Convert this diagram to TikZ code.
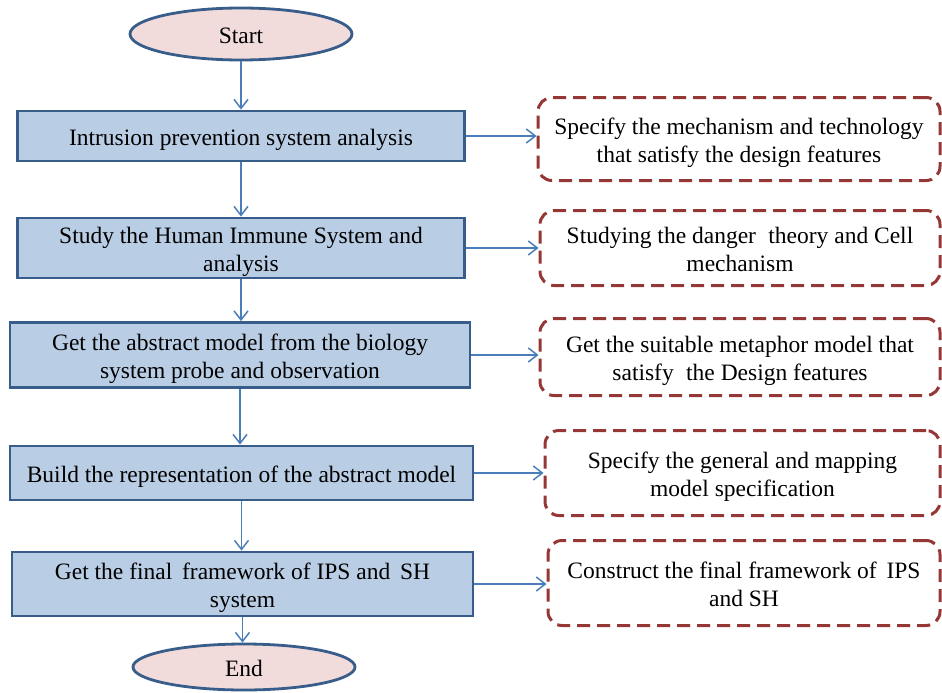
\documentclass[tikz,border=0pt]{standalone}
\usepackage{fontspec}
\setmainfont{Liberation Serif}
\usetikzlibrary{arrows.meta,shapes.geometric}
\definecolor{boxfill}{RGB}{185,205,229}
\definecolor{boxline}{RGB}{56,93,138}
\definecolor{ovalfill}{RGB}{242,220,219}
\definecolor{arrowblue}{RGB}{74,126,187}
\definecolor{noteline}{RGB}{149,55,53}
% centred block of lines, drawn a little below the geometric centre
\newcommand\boxtext[1]{\raisebox{-4pt}[\height][\depth]{\begin{tabular}{@{}c@{}}#1\end{tabular}}}
\tikzset{
  txt/.style={font=\fontsize{23.5}{28}\selectfont, inner sep=0pt},
  terminal/.style={txt, ellipse, draw=boxline, line width=2.8pt, fill=ovalfill},
  stepbox/.style={txt, rectangle, draw=boxline, line width=2.8pt, fill=boxfill},
  notebox/.style={txt, rectangle, rounded corners=14pt, draw=noteline, line width=3pt,
    dash pattern=on 13pt off 7pt},
  flow/.style={draw=arrowblue, line width=1.5pt, -{Straight Barb[length=9pt,width=14pt,line width=1.5pt]}}
}
\begin{document}
\begin{tikzpicture}[x=1pt,y=-1pt]
\useasboundingbox (0,0) rectangle (942,693);

% main column
\node[terminal, minimum width=222pt, minimum height=52pt] (start) at (241,34) {\boxtext{Start}};
\node[stepbox, minimum width=447pt, minimum height=50pt] (b1) at (241,136) {\boxtext{Intrusion prevention system analysis}};
\node[stepbox, minimum width=447pt, minimum height=60pt] (b2) at (241,248) {\boxtext{Study the Human Immune System and\\analysis}};
\node[stepbox, minimum width=460pt, minimum height=65pt] (b3) at (240,355) {\boxtext{Get the abstract model from the biology\\system probe and observation}};
\node[stepbox, minimum width=463pt, minimum height=54pt] (b4) at (241.5,473) {\boxtext{Build the representation of the abstract model}};
\node[stepbox, minimum width=461pt, minimum height=64pt] (b5) at (242.5,584) {\boxtext{Get the final\, framework of IPS and\, SH\\system}};
\node[terminal, minimum width=222pt, minimum height=46pt] (end) at (244,667) {\boxtext{End}};

% side notes
\node[notebox, minimum width=402pt, minimum height=83pt] (d1) at (739,139) {\boxtext{Specify the mechanism and technology\\that satisfy the design features}};
\node[notebox, minimum width=400pt, minimum height=75pt] (d2) at (740,248) {\boxtext{Studying the danger\; theory and Cell\\mechanism}};
\node[notebox, minimum width=400pt, minimum height=77pt] (d3) at (740,357) {\boxtext{Get the suitable metaphor model that\\satisfy\; the Design features}};
\node[notebox, minimum width=395pt, minimum height=85pt] (d4) at (742.5,473) {\boxtext{Specify the general and mapping\\model specification}};
\node[notebox, minimum width=392pt, minimum height=85pt] (d5) at (744,583) {\boxtext{Construct the final framework of\, IPS\\and SH}};

% vertical flow
\draw[flow] (start.south) -- (start.south |- b1.north);
\draw[flow] (b1.south) -- (b1.south |- b2.north);
\draw[flow] (b2.south) -- (b2.south |- b3.north);
\draw[flow] (b3.south) -- (b3.south |- b4.north);
\draw[flow] (b4.south) -- (b4.south |- b5.north);
\draw[flow] (b5.south) -- (b5.south |- end.north);

% links to the side notes
\draw[flow] (b1.east) -- (b1.east -| d1.west);
\draw[flow] (b2.east) -- (b2.east -| d2.west);
\draw[flow] (b3.east) -- (b3.east -| d3.west);
\draw[flow] (b4.east) -- (b4.east -| d4.west);
\draw[flow] (b5.east) -- (b5.east -| d5.west);
\end{tikzpicture}
\end{document}
